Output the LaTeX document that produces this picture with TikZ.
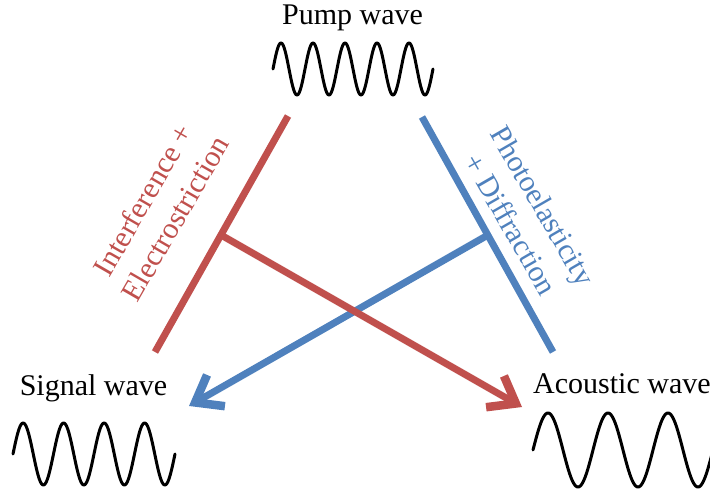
\documentclass[tikz,border=0pt]{standalone}
\usepackage{fontspec}
\setmainfont{Liberation Serif}
\usetikzlibrary{arrows.meta}
\definecolor{cred}{HTML}{C0504D}
\definecolor{cblue}{HTML}{4F81BD}
\begin{document}
\begin{tikzpicture}[x=1pt,y=-1pt,
  lbl/.style={font=\fontsize{30}{37}\selectfont, inner sep=0pt},
  bar/.style={line width=7pt},
  wave/.style={line width=3pt, black, line cap=round, line join=round},
  arr/.style={line width=7pt, -{Straight Barb[length=24pt,width=36pt,line width=8.5pt]}}]
\useasboundingbox (0,0) rectangle (710,497);
\clip (0,0) rectangle (710,497);
% labels
\node[lbl, anchor=base] (pump) at (352.5,25) {Pump wave};
\node[lbl, anchor=base] (signal) at (93.5,395) {Signal wave};
\node[lbl, anchor=base west] (acoustic) at (533,393) {Acoustic wave};
\node[lbl, text=cred, align=center, rotate=60] (rlab) at (159,209) {Interference +\\Electrostriction};
\node[lbl, text=cblue, align=center, rotate=-60] (blab) at (527,215) {Photoelasticity\\+ Diffraction};
% waves
\draw[wave] plot[domain=0:160, samples=240, smooth] ({273+\x}, {69-26*sin(11.25*\x)});
\draw[wave] plot[domain=0:162, samples=240, smooth] ({13+\x}, {454-31*sin(8.8889*\x)});
\draw[wave] plot[domain=0:182, samples=240, smooth] ({533+\x}, {450-37*sin(6*\x)});
% coordinates
\coordinate (rT) at (288,116);
\coordinate (rB) at (155,352);
\coordinate (bT) at (422,117);
\coordinate (bB) at (553,352);
\coordinate (rS) at (221,235);
\coordinate (rE) at (522,407);
\coordinate (bS) at (488,235);
\coordinate (bE) at (189,406);
% bars
\draw[bar, cred] (rT) -- (rB);
\draw[bar, cblue] (bT) -- (bB);
% arrows
\draw[arr, cblue] (bS) -- (bE);
\draw[arr, cred] (rS) -- (rE);
\end{tikzpicture}
\end{document}
